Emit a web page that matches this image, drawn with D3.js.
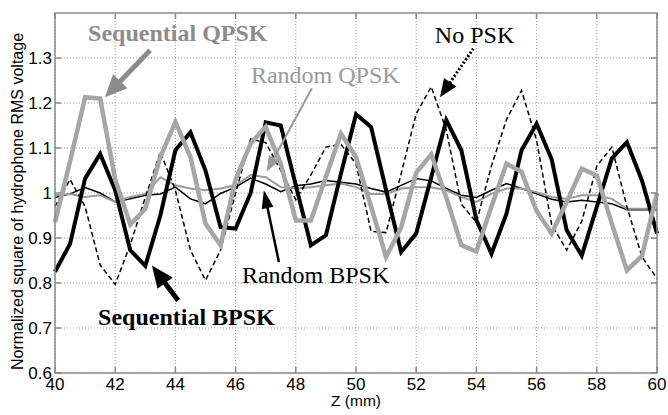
<!DOCTYPE html>
<html>
<head>
<meta charset="utf-8">
<script src="https://d3js.org/d3.v7.min.js"></script>
<style>
  body { margin: 0; background: #fff; }
  svg text { font-family: "Liberation Sans", Arial, sans-serif; }
  .note { font-family: "Liberation Serif", "Times New Roman", serif; font-size: 24px; }
</style>
</head>
<body>
<div id="chart"></div>
<script>
// sample positions along Z (mm)
const zMm = [40, 40.5, 41, 41.5, 42, 42.5, 43, 43.5, 44, 44.5, 45, 45.5, 46, 46.5, 47, 47.5, 48, 48.5, 49, 49.5,
             50, 50.5, 51, 51.5, 52, 52.5, 53, 53.5, 54, 54.5, 55, 55.5, 56, 56.5, 57, 57.5, 58, 58.5, 59, 59.5, 60];

const seqBPSK = [0.825, 0.887, 1.032, 1.087, 1.006, 0.873, 0.838, 0.95, 1.095, 1.135, 1.05, 0.924, 0.921, 1.0, 1.157, 1.15, 1.017, 0.884, 0.906, 1.043,
                 1.175, 1.147, 1.006, 0.869, 0.91, 1.035, 1.162, 1.095, 0.94, 0.865, 0.954, 1.095, 1.154, 1.075, 0.917, 0.861, 0.969, 1.077, 1.113, 1.028, 0.91];
const seqQPSK = [0.935, 1.07, 1.213, 1.21, 1.03, 0.93, 0.965, 1.08, 1.158, 1.08, 0.932, 0.884, 1.03, 1.11, 1.147, 1.065, 0.939, 0.939, 1.036, 1.132,
                 1.08, 0.97, 0.858, 0.924, 1.045, 1.086, 0.99, 0.884, 0.87, 0.97, 1.065, 1.047, 0.96, 0.91, 0.98, 1.054, 1.039, 0.932, 0.828, 0.86, 1.0];
const noPSK   = [0.97, 1.03, 0.97, 0.84, 0.797, 0.885, 0.99, 1.091, 1.006, 0.873, 0.806, 0.873, 1.0, 1.12, 1.112, 1.05, 0.985, 1.04, 1.102, 1.108,
                 1.065, 0.915, 0.912, 1.043, 1.176, 1.236, 1.14, 0.975, 0.935, 1.06, 1.163, 1.228, 1.117, 0.93, 0.873, 0.937, 1.06, 1.102, 0.97, 0.858, 0.81];
const randBPSK = [0.99, 0.998, 1.012, 1.0, 0.98, 0.987, 0.995, 0.998, 1.013, 0.987, 0.976, 0.999, 1.013, 1.033, 1.02, 1.003, 1.016, 1.02, 1.028, 1.024,
                  1.02, 1.01, 1.002, 1.017, 1.032, 1.027, 1.01, 0.995, 0.99, 1.006, 1.021, 1.01, 0.998, 0.986, 0.98, 0.984, 0.98, 0.976, 0.963, 0.963, 0.963];
const randQPSK = [0.995, 0.998, 0.991, 0.995, 0.98, 0.991, 0.998, 1.035, 1.017, 1.01, 1.006, 1.01, 1.017, 1.04, 1.035, 1.013, 1.01, 1.013, 1.017, 1.021,
                  1.013, 0.998, 0.998, 1.01, 1.013, 1.013, 1.006, 0.991, 0.98, 0.998, 1.01, 1.01, 1.002, 0.991, 0.987, 0.995, 0.995, 0.987, 0.965, 0.965, 0.965];

const xTicks = [40, 42, 44, 46, 48, 50, 52, 54, 56, 58, 60];
const yTicks = [0.6, 0.7, 0.8, 0.9, 1.0, 1.1, 1.2, 1.3];

// annotations: label, text anchor (z, v), arrow tail -> tip (z, v)
const notes = [
  {text: "Sequential QPSK", z: 41.1, v: 1.337, color: "#8c8c8c", bold: true,
   from: [43.16, 1.317], to: [41.66, 1.213], width: 5, head: [22, 20], dash: null},
  {text: "Random QPSK", z: 46.51, v: 1.244, color: "#9a9a9a", bold: false,
   from: [48.53, 1.232], to: [47.03, 1.047], width: 2, head: [16, 12], dash: null},
  {text: "No PSK", z: 52.62, v: 1.333, color: "#000", bold: false,
   from: [53.9, 1.321], to: [52.79, 1.213], width: 3, head: [18, 15], dash: "2,2"},
  {text: "Random BPSK", z: 46.21, v: 0.799, color: "#000", bold: false,
   from: [47.44, 0.846], to: [46.94, 1.006], width: 2.5, head: [18, 12], dash: null},
  {text: "Sequential BPSK", z: 41.43, v: 0.706, color: "#000", bold: true,
   from: [44.09, 0.761], to: [43.22, 0.839], width: 5, head: [22, 19], dash: null}
];

const W = 668, H = 415;
const margin = {left: 55, right: 11, top: 13, bottom: 42};

const svg = d3.select("#chart").append("svg")
  .attr("width", W).attr("height", H);

const x = d3.scaleLinear().domain([40, 60]).range([margin.left, W - margin.right]);
const y = d3.scaleLinear().domain([0.6, 1.4]).range([H - margin.bottom, margin.top]);

// grid
const grid = svg.append("g").attr("stroke", "#9a9a9a").attr("stroke-width", 1).attr("stroke-dasharray", "1,2");
grid.selectAll(".gx").data(xTicks).join("line")
  .attr("x1", d => x(d)).attr("x2", d => x(d)).attr("y1", y(0.6)).attr("y2", y(1.4));
grid.selectAll(".gy").data(yTicks).join("line")
  .attr("x1", x(40)).attr("x2", x(60)).attr("y1", d => y(d)).attr("y2", d => y(d));

// series
const line = d3.line().x((d, i) => x(zMm[i])).y(d => y(d));
const series = [
  {vals: randBPSK, color: "#000", w: 1.5, dash: null},
  {vals: randQPSK, color: "#9a9a9a", w: 2, dash: null},
  {vals: noPSK, color: "#000", w: 1.5, dash: "5,3"},
  {vals: seqBPSK, color: "#000", w: 4, dash: null},
  {vals: seqQPSK, color: "#a6a6a6", w: 4.5, dash: null}
];
const plot = svg.append("g");
plot.selectAll("path").data(series).join("path")
  .attr("d", d => line(d.vals))
  .attr("fill", "none")
  .attr("stroke", d => d.color)
  .attr("stroke-width", d => d.w)
  .attr("stroke-linejoin", "miter")
  .attr("stroke-dasharray", d => d.dash);

// axes frame
const frame = svg.append("g").attr("stroke", "#8a8a8a").attr("stroke-width", 1.5).attr("fill", "none");
frame.append("rect")
  .attr("x", x(40)).attr("y", y(1.4))
  .attr("width", x(60) - x(40)).attr("height", y(0.6) - y(1.4));
const tl = 6;
xTicks.forEach(t => {
  frame.append("line").attr("x1", x(t)).attr("x2", x(t)).attr("y1", y(0.6)).attr("y2", y(0.6) - tl);
  frame.append("line").attr("x1", x(t)).attr("x2", x(t)).attr("y1", y(1.4)).attr("y2", y(1.4) + tl);
});
yTicks.forEach(t => {
  frame.append("line").attr("x1", x(40)).attr("x2", x(40) + tl).attr("y1", y(t)).attr("y2", y(t));
  frame.append("line").attr("x1", x(60)).attr("x2", x(60) - tl).attr("y1", y(t)).attr("y2", y(t));
});

// tick labels
svg.append("g").selectAll("text").data(xTicks).join("text")
  .attr("x", d => x(d)).attr("y", y(0.6) + 17)
  .attr("text-anchor", "middle").attr("font-size", 17)
  .text(d => d);
svg.append("g").selectAll("text").data(yTicks).join("text")
  .attr("x", x(40) - 3).attr("y", d => y(d)).attr("dy", "0.36em")
  .attr("text-anchor", "end").attr("font-size", 17)
  .text(d => String(+d.toFixed(1)));

// axis titles
svg.append("text")
  .attr("x", (x(40) + x(60)) / 2).attr("y", H - 9)
  .attr("text-anchor", "middle").attr("font-size", 15.5)
  .text("Z (mm)");
svg.append("text")
  .attr("transform", `translate(23,${(y(0.6) + 20) / 2 + 5}) rotate(-90)`)
  .attr("text-anchor", "middle").attr("font-size", 16)
  .text("Normalized square of hydrophone RMS voltage");

// annotations
const ann = svg.append("g");
notes.forEach(n => {
  const x0 = x(n.from[0]), y0 = y(n.from[1]), x1 = x(n.to[0]), y1 = y(n.to[1]);
  const ang = Math.atan2(y1 - y0, x1 - x0);
  const [hl, hw] = n.head;
  const bx = x1 - hl * Math.cos(ang), by = y1 - hl * Math.sin(ang);
  ann.append("line")
    .attr("x1", x0).attr("y1", y0).attr("x2", bx + 2 * Math.cos(ang)).attr("y2", by + 2 * Math.sin(ang))
    .attr("stroke", n.color).attr("stroke-width", n.width)
    .attr("stroke-dasharray", n.dash);
  const px = -Math.sin(ang) * hw / 2, py = Math.cos(ang) * hw / 2;
  ann.append("path")
    .attr("d", `M${x1},${y1}L${bx + px},${by + py}L${bx - px},${by - py}Z`)
    .attr("fill", n.color);
  ann.append("text").attr("class", "note")
    .attr("x", x(n.z)).attr("y", y(n.v))
    .attr("fill", n.color)
    .attr("font-weight", n.bold ? "bold" : "normal")
    .text(n.text);
});
</script>
</body>
</html>
